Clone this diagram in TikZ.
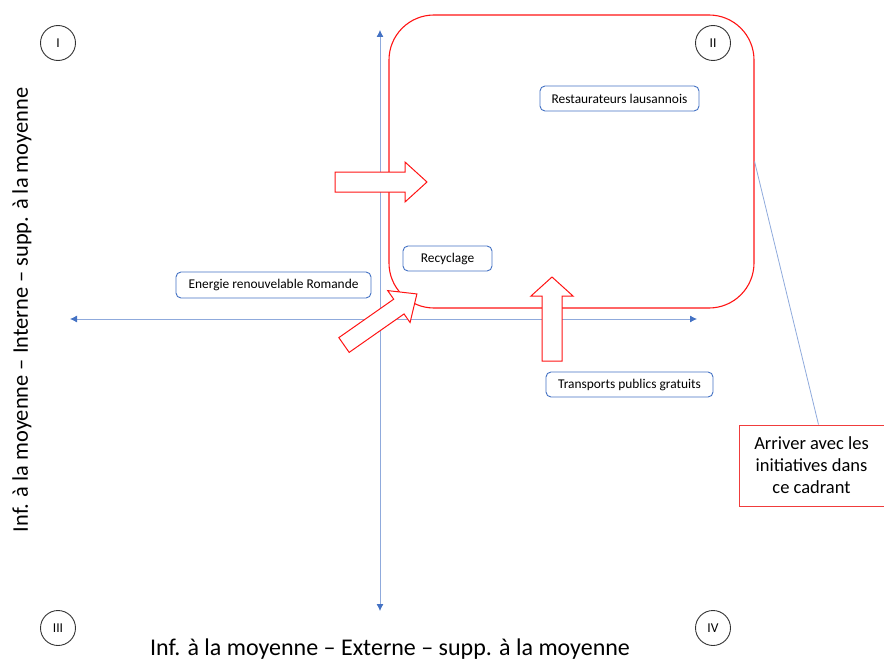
\documentclass[tikz,border=0pt]{standalone}
\usepackage{fontspec}
\setmainfont{Carlito}
\usetikzlibrary{arrows.meta,calc}
\definecolor{axisblue}{RGB}{68,114,196}
\definecolor{lineblue}{RGB}{143,170,220}
\definecolor{hot}{RGB}{255,20,20}
\definecolor{notered}{RGB}{240,60,60}
\begin{document}
\begin{tikzpicture}[x=1pt,y=-1pt,
  tag/.style={draw=axisblue,line width=0.9pt,rounded corners=5pt,fill=white,inner sep=0pt,
    minimum height=25pt,font=\fontsize{13.4}{16}\selectfont},
  quad/.style={circle,draw=black!80,line width=0.9pt,minimum size=35pt,inner sep=0pt,
    font=\fontsize{13.5}{16}\selectfont},
  axis/.style={draw=lineblue,line width=0.8pt,
    {Latex[length=7pt,width=7pt,color=axisblue]}-{Latex[length=7pt,width=7pt,color=axisblue]}},
  blockarrow/.style={draw=hot,line width=1pt,fill=white},
  zone/.style={draw=hot,line width=1.1pt,rounded corners=45pt,inner sep=0pt},
  note/.style={draw=notered,line width=1pt,inner sep=0pt,align=center,
    font=\fontsize{18.5}{22}\selectfont},
  axislabel/.style={inner sep=0pt},
]
\useasboundingbox (0,0) rectangle (884,661);

% axes
\coordinate (vtop) at (380,30);
\coordinate (vbot) at (380,611);
\coordinate (hleft) at (70,319);
\coordinate (hright) at (697,319);
\draw[axis] (vbot) -- (vtop);
\draw[axis] (hleft) -- (hright);

% target quadrant
\node[zone,minimum width=365pt,minimum height=293pt] (zone) at (571.5,161.5) {};

% quadrant numbers
\node[quad] (q1) at (58,43) {I};
\node[quad] (q2) at (713,43) {II};
\node[quad] (q3) at (58,628) {III};
\node[quad] (q4) at (713,628) {IV};

% initiatives
\node[tag,minimum width=159pt] (resto) at (619.5,98.5) {Restaurateurs lausannois};
\node[tag,minimum width=89pt] (recy) at (447.5,258.5) {Recyclage};
\node[tag,minimum width=195pt,minimum height=26pt] (energie) at (273.5,285) {Energie renouvelable Romande};
\node[tag,minimum width=167pt] (transp) at (629.5,384.5) {Transports publics gratuits};

% block arrows pushing into the target quadrant
\draw[blockarrow,shift={(335,182)},rotate=0]
  (0,-10) -- (70,-10) -- (70,-20) -- (92,0) -- (70,20) -- (70,10) -- (0,10) -- cycle;
\draw[blockarrow,shift={(552,361)},rotate=90]
  (0,-10) -- (65,-10) -- (65,-21) -- (84,0) -- (65,21) -- (65,10) -- (0,10) -- cycle;
\draw[blockarrow,shift={(344,345)},rotate=35]
  (0,-9) -- (67,-9) -- (67,-19.5) -- (89,0) -- (67,19.5) -- (67,9) -- (0,9) -- cycle;

% note and its pointer
\node[note,minimum width=145pt,minimum height=81pt] (note) at (811.5,465.5)
  {Arriver avec les\\initiatives dans\\ce cadrant};
\draw[lineblue,line width=0.8pt] (zone.east) -- ($(note.north)+(7,0)$);

% axis titles
\node[axislabel,anchor=base,font=\fontsize{24}{28}\selectfont] (xlab) at (390,655)
  {Inf. à la moyenne – Externe – supp. à la moyenne};
\node[axislabel,rotate=90,font=\fontsize{22.4}{26}\selectfont] (ylab) at (22,310)
  {Inf. à la moyenne – Interne – supp. à la moyenne};
\end{tikzpicture}
\end{document}
